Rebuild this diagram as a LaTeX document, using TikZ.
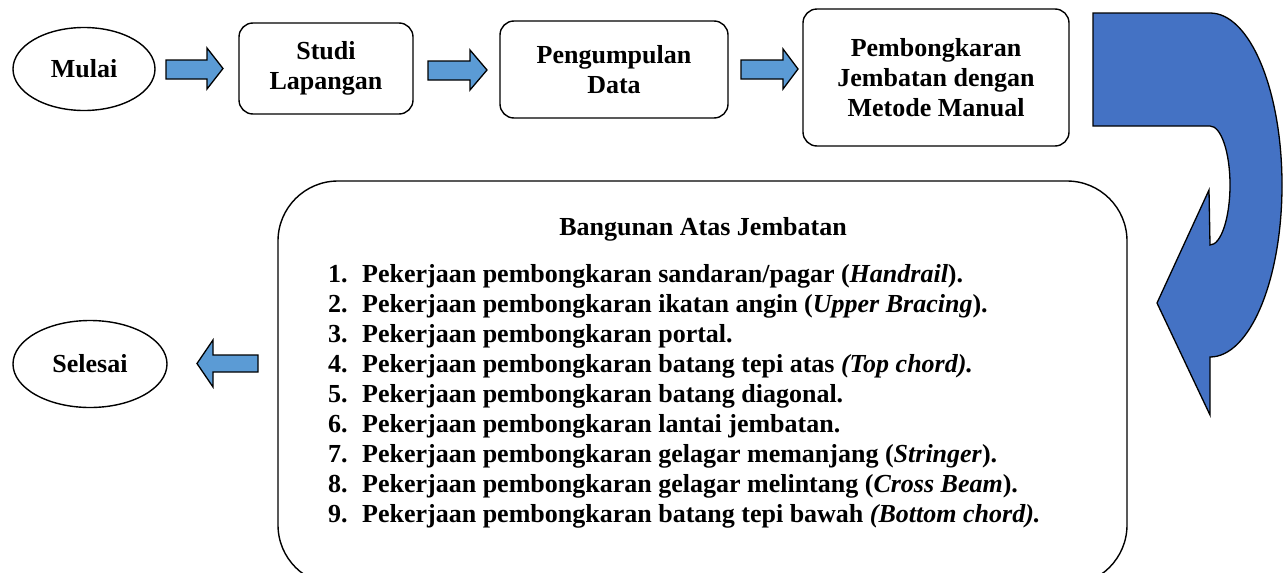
\documentclass[tikz,border=0pt]{standalone}
\usepackage{fontspec}
\setmainfont{Liberation Serif}
\usetikzlibrary{shapes.geometric}
\definecolor{darkblue}{HTML}{4472C4}
\definecolor{lightblue}{HTML}{5B9BD5}
\begin{document}
\begin{tikzpicture}[x=1pt,y=-1pt,
  txt/.style={font=\fontsize{26}{30}\selectfont\bfseries},
  ovalnode/.style={ellipse,draw,line width=1.4pt,txt,inner sep=0pt},
  boxnode/.style={rectangle,rounded corners=14pt,draw,line width=1.4pt,txt,align=center,inner sep=0pt},
  barrow/.style={draw,line width=1.3pt,fill=lightblue,line join=miter},
  bigarrow/.style={draw,line width=1.3pt,fill=darkblue,line join=miter},
  listline/.style={anchor=base west,inner sep=0pt,txt}
]
\useasboundingbox (0,0) rectangle (1288,573);
\begin{scope}
\clip (0,0) rectangle (1288,573);
% oval nodes
\node[ovalnode,minimum width=142pt,minimum height=83pt] (mulai) at (84,69) {Mulai};
\node[ovalnode,minimum width=154pt,minimum height=87pt] (selesai) at (90,364) {Selesai};
% boxes
\node[boxnode,minimum width=174pt,minimum height=91pt] (studi) at (326,68.5) {Studi\\Lapangan};
\node[boxnode,minimum width=228pt,minimum height=97pt] (data) at (614,69.5) {Pengumpulan\\Data};
\node[boxnode,minimum width=266pt,minimum height=137pt] (manual) at (936,77.5) {Pembongkaran\\Jembatan dengan\\Metode Manual};
% big box
\node[rectangle,rounded corners=60pt,draw,line width=1.4pt,minimum width=849pt,minimum height=404pt] (atas) at (702.5,383) {};
% block arrows
\draw[barrow] (166,60) -- (207,60) -- (207,48) -- (223,68.5) -- (207,89) -- (207,79) -- (166,79) -- cycle;
\draw[barrow] (428,61) -- (470,61) -- (470,50) -- (487,70) -- (470,90) -- (470,80) -- (428,80) -- cycle;
\draw[barrow] (741,60) -- (783,60) -- (783,49) -- (798,69) -- (783,89) -- (783,79) -- (741,79) -- cycle;
\draw[barrow] (258,355) -- (213,355) -- (213,340) -- (197,363.5) -- (213,387) -- (213,372) -- (258,372) -- cycle;
% curved arrow
\draw[bigarrow] (1093,13) -- (1210,13)
  .. controls (1249.8,13) and (1282,90) .. (1282,185)
  .. controls (1282,280) and (1249.8,357) .. (1210,357)
  -- (1210,415) -- (1157,303) -- (1209,190) -- (1210,245)
  .. controls (1221,245) and (1230,218) .. (1230,185)
  .. controls (1230,152) and (1221,126) .. (1210,126)
  -- (1093,126) -- cycle;
% texts
\node[anchor=base,inner sep=0pt,txt] (judul) at (703,235) {Bangunan Atas Jembatan};
\node[listline] (l1) at (328,282) {\makebox[34pt][l]{1.}Pekerjaan pembongkaran sandaran/pagar (\textit{Handrail}).};
\node[listline] (l2) at (328,312) {\makebox[34pt][l]{2.}Pekerjaan pembongkaran ikatan angin (\textit{Upper Bracing}).};
\node[listline] (l3) at (328,342) {\makebox[34pt][l]{3.}Pekerjaan pembongkaran portal.};
\node[listline] (l4) at (328,372) {\makebox[34pt][l]{4.}Pekerjaan pembongkaran batang tepi atas \textit{(Top chord).}};
\node[listline] (l5) at (328,402) {\makebox[34pt][l]{5.}Pekerjaan pembongkaran batang diagonal.};
\node[listline] (l6) at (328,432) {\makebox[34pt][l]{6.}Pekerjaan pembongkaran lantai jembatan.};
\node[listline] (l7) at (328,462) {\makebox[34pt][l]{7.}Pekerjaan pembongkaran gelagar memanjang (\textit{Stringer}).};
\node[listline] (l8) at (328,492) {\makebox[34pt][l]{8.}Pekerjaan pembongkaran gelagar melintang (\textit{Cross Beam}).};
\node[listline] (l9) at (328,522) {\makebox[34pt][l]{9.}Pekerjaan pembongkaran batang tepi bawah \textit{(Bottom chord).}};
\end{scope}
\end{tikzpicture}
\end{document}
